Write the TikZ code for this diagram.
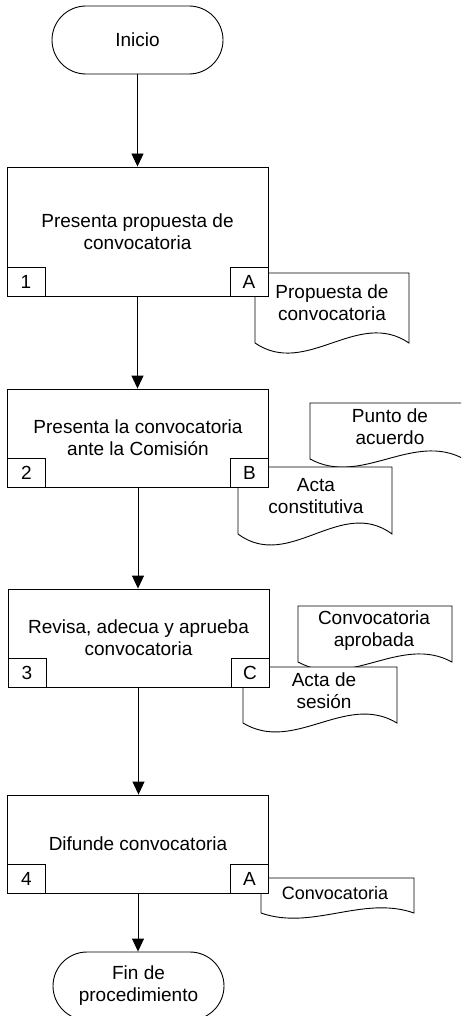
\documentclass[tikz,border=0pt]{standalone}
\usepackage{fontspec}
\setmainfont{Liberation Sans}
\usetikzlibrary{arrows.meta}
\tikzset{
  lw/.style={line width=0.9pt},
  term/.style={draw, lw, fill=white, rounded corners=34pt, minimum width=171pt, minimum height=68pt, align=center, inner sep=0pt},
  proc/.style={draw, lw, fill=white, minimum width=261pt, minimum height=98pt, align=center, inner sep=0pt},
  tag/.style={draw, lw, fill=white, minimum width=38pt, minimum height=29pt, inner sep=0pt},
  doctext/.style={align=center, inner sep=0pt},
  arr/.style={lw, -{Triangle[width=12pt,length=13pt]}}
}
\newcommand\docshp[5]{%
  \pgfmathsetmacro\dw{#3-#1}%
  \draw[lw,fill=white] (#1,#2) -- (#3,#2) -- (#3,#4) .. controls ({#3-\dw/3},{#4-#5}) and ({#1+\dw/3},{#4+#5}) .. (#1,#4) -- cycle;}
\begin{document}
\begin{tikzpicture}[x=1pt, y=-1pt, font=\fontsize{19}{22}\selectfont]
\clip (0,0) rectangle (461,1016);
\fill[white] (0,0) rectangle (461,1016);

% documents (behind the boxes)
\docshp{255}{273}{409}{343}{35}
\node[doctext] (t1) at (332,303) {Propuesta de\\convocatoria};
\docshp{310}{403}{464}{459}{28}
\node[doctext] (t2) at (390,426.5) {Punto de\\acuerdo};
\docshp{238}{467}{392}{534}{38}
\node[doctext] (t3) at (316,496.5) {Acta\\constitutiva};
\docshp{298}{606}{452}{662}{28}
\node[doctext] (t4) at (374,630.5) {Convocatoria\\aprobada};
\docshp{243}{667}{397}{723}{31}
\node[doctext] (t5) at (324,690.5) {Acta de\\sesión};
\docshp{261}{878}{414}{913}{18}
\node[doctext] (t6) at (335,893) {\fontsize{18}{21}\selectfont Convocatoria};

% main flow
\node[term] (inicio) at (137.5,40) {Inicio};
\node[proc, minimum height=129pt] (b1) at (137.5,231.5) {Presenta propuesta de\\convocatoria};
\node[proc] (b2) at (138,438) {Presenta la convocatoria\\ante la Comisión};
\node[proc] (b3) at (138.5,638) {Revisa, adecua y aprueba\\convocatoria};
\node[proc] (b4) at (138,844) {Difunde convocatoria};
\node[term] (fin) at (138.5,986) {Fin de\\procedimiento};

\node[tag, anchor=south west] (n1) at (b1.south west) {1};
\node[tag, anchor=south east] (l1) at (b1.south east) {A};
\node[tag, anchor=south west] (n2) at (b2.south west) {2};
\node[tag, anchor=south east] (l2) at (b2.south east) {B};
\node[tag, anchor=south west] (n3) at (b3.south west) {3};
\node[tag, anchor=south east] (l3) at (b3.south east) {C};
\node[tag, anchor=south west] (n4) at (b4.south west) {4};
\node[tag, anchor=south east] (l4) at (b4.south east) {A};

\draw[arr] (inicio.south) -- (inicio.south |- b1.north);
\draw[arr] (b1.south) -- (b1.south |- b2.north);
\draw[arr] (b2.south) -- (b2.south |- b3.north);
\draw[arr] (b3.south) -- (b3.south |- b4.north);
\draw[arr] (b4.south) -- (b4.south |- fin.north);
\end{tikzpicture}
\end{document}
